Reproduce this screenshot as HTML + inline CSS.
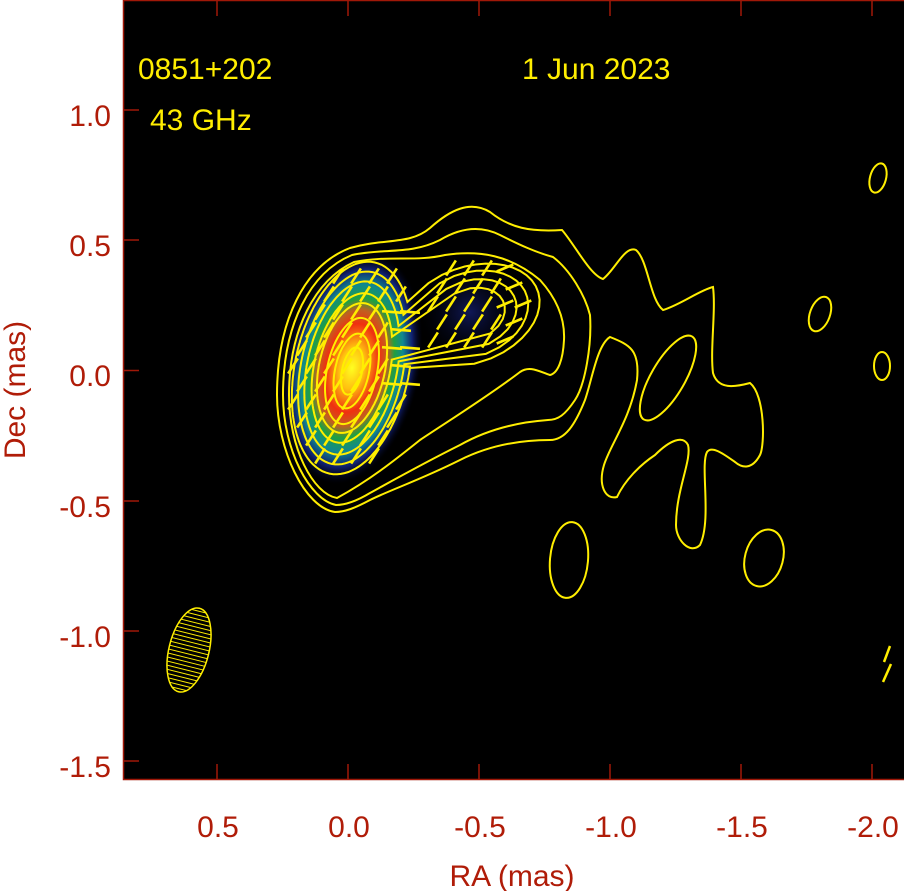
<!DOCTYPE html>
<html><head><meta charset="utf-8"><style>
html,body{margin:0;padding:0;background:#fff;}
svg{display:block;}
text{font-family:"Liberation Sans",sans-serif;}
</style></head><body>
<svg id="s" width="904" height="891" viewBox="0 0 904 891" xmlns="http://www.w3.org/2000/svg">
<defs>
<radialGradient id="core" cx="0.5" cy="0.5" r="0.5">
<stop offset="0" stop-color="#ffff20"/>
<stop offset="0.18" stop-color="#ffc010"/>
<stop offset="0.38" stop-color="#f03010"/>
<stop offset="0.5" stop-color="#c06020"/>
<stop offset="0.6" stop-color="#20a040"/>
<stop offset="0.72" stop-color="#108890"/>
<stop offset="0.85" stop-color="#102070"/>
<stop offset="1" stop-color="#000010" stop-opacity="0"/>
</radialGradient>
<radialGradient id="blob" cx="0.5" cy="0.5" r="0.5">
<stop offset="0" stop-color="#101858"/>
<stop offset="1" stop-color="#000" stop-opacity="0"/>
</radialGradient>
<clipPath id="beamclip"><ellipse cx="0" cy="0" rx="20" ry="43"/></clipPath>
</defs>
<rect x="123" y="0" width="781" height="780" fill="#000"/>
<ellipse cx="470" cy="312" rx="55" ry="55" fill="url(#blob)"/>
<ellipse cx="352" cy="368" rx="68" ry="118" fill="url(#core)" transform="rotate(12 352 368)"/>
<g id="g" fill="none" stroke="#ffee00" stroke-width="2">
<path d="M335,512 C305,508 277,450 277,395 C277,320 305,265 350,248 C385,238 410,245 430,228 C450,210 470,200 490,212 C510,228 530,232 562,230 C575,245 590,275 603,279 C615,270 625,245 636,250 C648,260 650,300 663,310 C680,305 700,290 713,287 C716,310 710,350 713,373 C718,390 735,387 750,383 C765,395 765,445 760,455 C752,470 742,468 735,462 C725,455 712,445 707,452 C700,465 712,520 700,545 C690,555 676,540 676,525 C676,490 692,460 688,445 C683,435 670,440 655,455 C640,465 625,480 617,497 C605,500 598,485 604,465 C610,445 630,420 637,380 C640,350 630,345 610,337 C597,345 592,380 585,400 C575,425 565,440 550,440 C520,440 490,445 460,460 C420,480 390,490 370,500 C355,508 345,512 335,512 Z"/>
<path d="M336,505 C310,500 283,450 283,395 C283,325 310,272 352,255 C385,248 410,255 440,240 C460,228 480,225 500,235 C520,245 535,252 553,257 C570,270 585,295 590,315 C592,345 585,385 575,400 C565,415 558,420 548,420 C520,422 490,428 460,445 C420,465 390,482 370,493 C355,502 345,505 336,505 Z"/>
<path d="M337,498 C313,494 289,448 289,395 C289,330 315,280 354,262 C390,255 415,262 445,255 C480,250 510,255 540,280 C558,300 565,320 564,340 C563,360 558,373 550,375 C540,372 530,365 520,372 C490,395 450,420 420,440 C395,460 370,480 337,498 Z"/>
<ellipse cx="668" cy="378" rx="17" ry="48" transform="rotate(30 668 378)"/>
<ellipse cx="569" cy="560" rx="19" ry="38" transform="rotate(5 569 560)"/>
<ellipse cx="764" cy="558" rx="19" ry="29" transform="rotate(15 764 558)"/>
<ellipse cx="820" cy="314" rx="10" ry="18" transform="rotate(20 820 314)"/>
<ellipse cx="878" cy="178" rx="8" ry="15" transform="rotate(15 878 178)"/>
<ellipse cx="882" cy="366" rx="8" ry="14"/>
<line x1="884" y1="662" x2="890" y2="646" stroke-width="2.5"/>
<line x1="883" y1="682" x2="891" y2="664" stroke-width="2.5"/>
</g>
<g transform="translate(189 650) rotate(14)">
<g clip-path="url(#beamclip)" stroke="#ffee00" stroke-width="1" id="hatch"></g>
<ellipse cx="0" cy="0" rx="20" ry="43" fill="none" stroke="#ffee00" stroke-width="1.5"/>
</g>
<g stroke="#a01808" stroke-width="1.5" fill="none">
<rect x="123.5" y="0.5" width="790" height="779"/>
<g id="ticks"></g>
</g>
<g fill="#b01c08" font-size="30" text-anchor="end">
<text x="111" y="126">1.0</text>
<text x="111" y="256">0.5</text>
<text x="111" y="386">0.0</text>
<text x="111" y="517">-0.5</text>
<text x="111" y="647">-1.0</text>
<text x="111" y="777">-1.5</text>
</g>
<g fill="#b01c08" font-size="30" text-anchor="middle">
<text x="218" y="837">0.5</text>
<text x="349" y="837">0.0</text>
<text x="480" y="837">-0.5</text>
<text x="611" y="837">-1.0</text>
<text x="742" y="837">-1.5</text>
<text x="873" y="837">-2.0</text>
<text x="512" y="886">RA (mas)</text>
<text transform="translate(25 390) rotate(-90)">Dec (mas)</text>
</g>
<g fill="#ffee00" font-size="30">
<text x="138" y="79">0851+202</text>
<text x="150" y="130">43 GHz</text>
<text x="522" y="79">1 Jun 2023</text>
</g>
</svg>
<script>
var NS="http://www.w3.org/2000/svg";
function el(p,t,a){var e=document.createElementNS(NS,t);for(var k in a)e.setAttribute(k,a[k]);p.appendChild(e);return e;}
var g=document.getElementById('g');
var cx=352,cy=368;
function ellR(th,ecx,ecy,rx,ry,tilt){
 var dx=Math.cos(th),dy=Math.sin(th);
 var c=Math.cos(tilt),s=Math.sin(tilt);
 var ox=cx-ecx,oy=cy-ecy;
 var px=ox*c+oy*s,py=-ox*s+oy*c,ux=dx*c+dy*s,uy=-dx*s+dy*c;
 var A=ux*ux/(rx*rx)+uy*uy/(ry*ry),B=2*(px*ux/(rx*rx)+py*uy/(ry*ry)),C=px*px/(rx*rx)+py*py/(ry*ry)-1;
 var D=B*B-4*A*C; if(D<0)return 0;
 return Math.max(0,(-B+Math.sqrt(D))/(2*A));
}
var tilt=12*Math.PI/180;
var mids=[[57,108,72,48],[51,98,60,42],[45,88,48,34],[38,76,36,26],[33,66,0,0]];
mids.forEach(function(m){
 var d="";
 for(var i=0;i<=180;i++){
  var th=i/180*2*Math.PI;
  var r=ellR(th,cx,cy,m[0],m[1],tilt);
  if(m[2]>0){var r2=ellR(th,470,315,m[2],m[3],-0.35);r=Math.max(r,r2);}
  var x=cx+r*Math.cos(th),y=cy+r*Math.sin(th);
  d+=(i?"L":"M")+x.toFixed(1)+","+y.toFixed(1);
 }
 el(g,'path',{d:d+"Z"});
});
[[25,54],[17,38],[10,24]].forEach(function(e){
 el(g,'ellipse',{cx:cx,cy:cy+3,rx:e[0],ry:e[1],transform:"rotate(12 "+cx+" "+(cy+3)+")"});
});
var tg=el(document.getElementById('s'),'g',{stroke:"#ffee00","stroke-width":"2.6"});
function tick(x,y,a,L){var dx=Math.cos(a)*L/2,dy=Math.sin(a)*L/2;el(tg,'line',{x1:x-dx,y1:y+dy,x2:x+dx,y2:y-dy});}
for(var y=258;y<=470;y+=18){for(var x=290;x<=425;x+=18){
 var xx=x+((y/18)%2)*9;
 var ux=(xx-cx),uy=(y-cy);
 var c=Math.cos(tilt),s=Math.sin(tilt);
 var px=ux*c+uy*s,py=-ux*s+uy*c;
 if(px*px/(62*62)+py*py/(108*108)<1){
  if(xx>388&&y>300&&y<400)tick(xx,y,-0.08,20);else tick(xx,y,1.0,18);
 }
}}
for(var y=250;y<=350;y+=18){for(var x=425;x<=520;x+=18){
 var xx=x+((y/18)%2)*9;
 var ux=xx-470,uy=y-305;
 if(ux*ux/(55*55)+uy*uy/(50*50)<1){tick(xx,y,(xx>500?0.4:1.0),18);}
}}
var h=document.getElementById('hatch');
for(var y=-44;y<=44;y+=4)el(h,'line',{x1:-25,y1:y,x2:25,y2:y});
var t=document.getElementById('ticks');
[110,240,370.5,501,631,761].forEach(function(y){el(t,'line',{x1:123,y1:y,x2:139,y2:y});});
[217,348,479,610,741,872].forEach(function(x){el(t,'line',{x1:x,y1:780,x2:x,y2:764});el(t,'line',{x1:x,y1:0,x2:x,y2:16});});
</script>
</body></html>
